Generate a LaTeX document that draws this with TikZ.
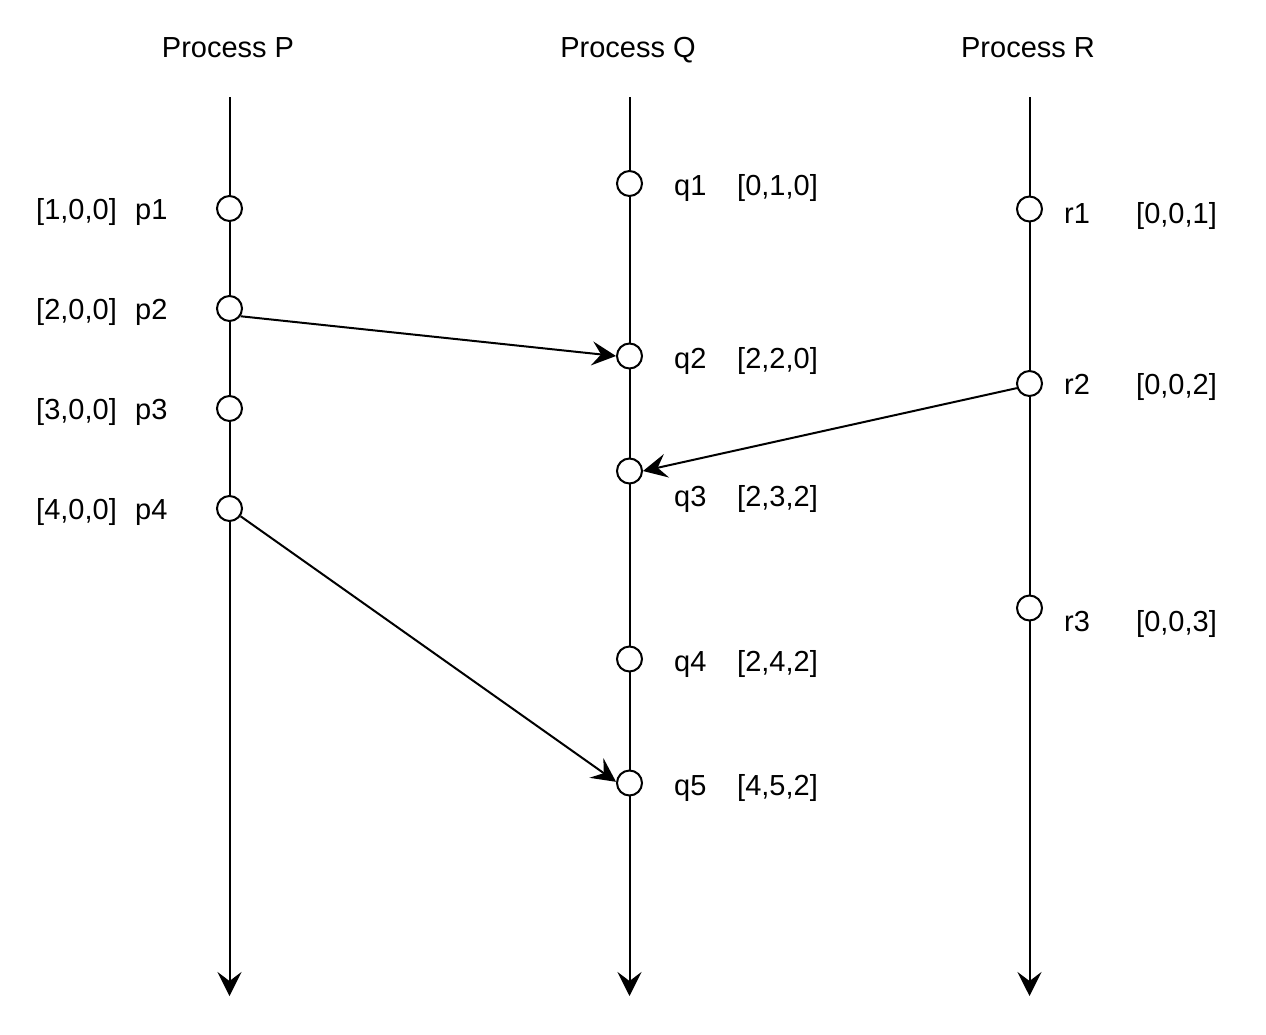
\documentclass[tikz,border=0pt]{standalone}
\usepackage{fontspec}
\setmainfont{Liberation Sans}
\usetikzlibrary{arrows.meta}
\begin{document}
\begin{tikzpicture}[x=1pt,y=-1pt,
  ev/.style={circle,draw,fill=white,line width=2pt,minimum size=25pt,inner sep=0pt},
  lbl/.style={anchor=base west,inner sep=0pt,font=\fontsize{29}{34}\selectfont},
  ttl/.style={anchor=base,inner sep=0pt,font=\fontsize{29}{34}\selectfont},
  life/.style={line width=2pt,-{Stealth[length=24pt,width=24pt,inset=9pt]}},
  msg/.style={line width=2pt,-{Stealth[length=24pt,width=24pt,inset=9pt]}}]
\useasboundingbox (0,0) rectangle (1266,1034);
% titles
\node[ttl] (tP) at (228,57) {Process P};
\node[ttl] (tQ) at (628,57) {Process Q};
\node[ttl] (tR) at (1028,57) {Process R};
% lifelines
\coordinate (Ptop) at (229.5,97);
\coordinate (Pbot) at (229.5,996);
\coordinate (Qtop) at (629.5,97);
\coordinate (Qbot) at (629.5,996);
\coordinate (Rtop) at (1029.5,97);
\coordinate (Rbot) at (1029.5,996);
\draw[life] (Ptop) -- (Pbot);
\draw[life] (Qtop) -- (Qbot);
\draw[life] (Rtop) -- (Rbot);
% events P
\node[ev] (p1) at (229.5,208.5) {};
\node[ev] (p2) at (229.5,308.5) {};
\node[ev] (p3) at (229.5,408.5) {};
\node[ev] (p4) at (229.5,508.5) {};
% events Q
\node[ev] (q1) at (629.5,183.5) {};
\node[ev] (q2) at (629.5,356) {};
\node[ev] (q3) at (629.5,471) {};
\node[ev] (q4) at (629.5,659) {};
\node[ev] (q5) at (629.5,783) {};
% events R
\node[ev] (r1) at (1029.5,209) {};
\node[ev] (r2) at (1029.5,383.5) {};
\node[ev] (r3) at (1029.5,608) {};
% labels P
\node[lbl] (vp1) at (36,219) {[1,0,0]};
\node[lbl] (lp1) at (135,219) {p1};
\node[lbl] (vp2) at (36,319) {[2,0,0]};
\node[lbl] (lp2) at (135,319) {p2};
\node[lbl] (vp3) at (36,419) {[3,0,0]};
\node[lbl] (lp3) at (135,419) {p3};
\node[lbl] (vp4) at (36,519) {[4,0,0]};
\node[lbl] (lp4) at (135,519) {p4};
% labels Q
\node[lbl] (lq1) at (674,195) {q1};
\node[lbl] (vq1) at (737,195) {[0,1,0]};
\node[lbl] (lq2) at (674,368) {q2};
\node[lbl] (vq2) at (737,368) {[2,2,0]};
\node[lbl] (lq3) at (674,506) {q3};
\node[lbl] (vq3) at (737,506) {[2,3,2]};
\node[lbl] (lq4) at (674,671) {q4};
\node[lbl] (vq4) at (737,671) {[2,4,2]};
\node[lbl] (lq5) at (674,795) {q5};
\node[lbl] (vq5) at (737,795) {[4,5,2]};
% labels R
\node[lbl] (lr1) at (1064,223) {r1};
\node[lbl] (vr1) at (1136,223) {[0,0,1]};
\node[lbl] (lr2) at (1064,394) {r2};
\node[lbl] (vr2) at (1136,394) {[0,0,2]};
\node[lbl] (lr3) at (1064,631) {r3};
\node[lbl] (vr3) at (1136,631) {[0,0,3]};
% messages
\draw[msg] (p2.-35) -- (q2.west);
\draw[msg] (r2.200) -- (q3.east);
\draw[msg] (p4.-35) -- (q5.175);
\end{tikzpicture}
\end{document}
